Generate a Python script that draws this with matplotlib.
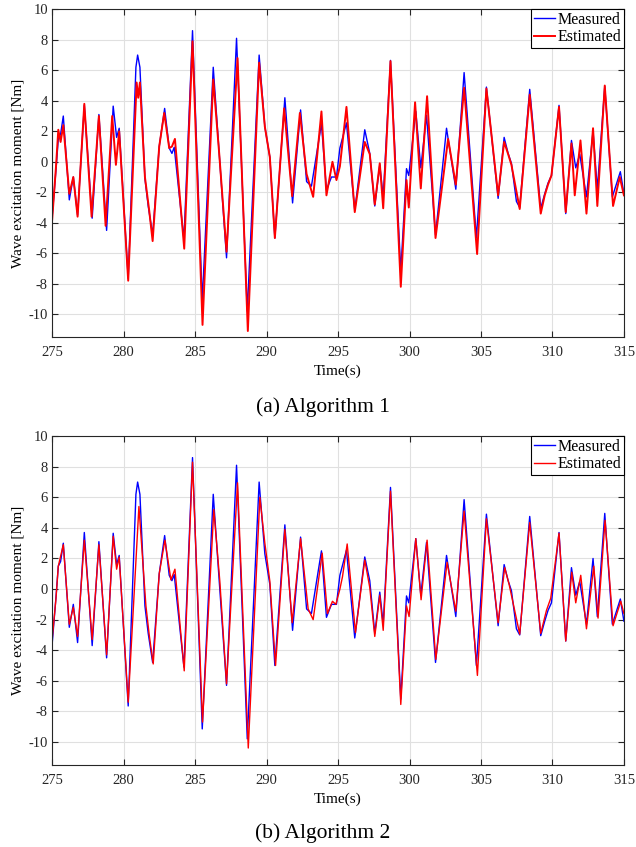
import numpy as np
import matplotlib
matplotlib.use("Agg")
import matplotlib.pyplot as plt

plt.rcParams['font.family'] = ['Liberation Serif', 'DejaVu Serif']
plt.rcParams['axes.unicode_minus'] = False

# measured wave excitation moment (same in both panels)
t_meas = [275.00, 275.27, 275.43, 275.59, 275.78, 276.20, 276.48, 276.78, 277.25, 277.80,
          278.27, 278.81, 279.27, 279.51, 279.69, 280.32, 280.86, 280.98, 281.14, 281.49,
          281.72, 282.03, 282.49, 282.87, 283.19, 283.38, 283.54, 284.22, 284.82, 285.50,
          286.27, 286.69, 287.20, 287.90, 288.65, 289.48, 289.88, 290.23, 290.58, 291.28,
          291.82, 292.38, 292.80, 293.14, 293.84, 294.19, 294.54, 294.89, 295.13, 295.59,
          296.17, 296.87, 297.22, 297.57, 297.92, 298.16, 298.67, 299.39, 299.79, 299.95,
          300.44, 300.79, 301.19, 301.82, 302.59, 303.24, 303.82, 304.68, 305.38, 306.20,
          306.62, 306.90, 307.13, 307.48, 307.71, 308.41, 309.18, 309.46, 309.69, 309.93,
          310.46, 310.93, 311.33, 311.63, 311.91, 312.38, 312.84, 313.14, 313.66, 314.19,
          314.75, 315.00]
measured = [-3.6, -0.5, 1.5, 1.8, 3.0, -2.5, -1.0, -3.5, 3.7, -3.7,
            3.1, -4.5, 3.65, 1.6, 2.2, -7.65, 6.2, 7.0, 6.2, -1.1,
            -2.9, -4.8, 1.0, 3.5, 0.9, 0.55, 0.95, -5.1, 8.6, -9.15,
            6.2, 0.5, -6.3, 8.1, -9.8, 7.0, 2.3, 0.3, -5.0, 4.2,
            -2.7, 3.4, -1.3, -1.6, 2.5, -1.85, -1.0, -1.0, 0.9, 2.55,
            -3.2, 2.1, 0.55, -2.9, -0.2, -2.3, 6.65, -7.2, -0.45, -0.9,
            3.3, -0.4, 3.05, -4.8, 2.2, -1.8, 5.85, -5.0, 4.9, -2.4,
            1.6, 0.55, -0.1, -2.6, -3.0, 4.75, -3.05, -2.1, -1.4, -0.9,
            3.7, -3.4, 1.4, -0.4, 0.5, -2.3, 2.0, -1.8, 4.95, -2.3,
            -0.65, -2.1]

# estimated, algorithm 1
t_est1 = [275.00, 275.27, 275.43, 275.59, 275.78, 276.20, 276.48, 276.78, 277.25, 277.76,
          278.27, 278.74, 279.20, 279.46, 279.69, 280.32, 280.91, 281.02, 281.14, 281.49,
          281.79, 282.03, 282.49, 282.84, 283.19, 283.38, 283.59, 284.24, 284.82, 285.52,
          286.27, 286.69, 287.20, 287.97, 288.69, 289.48, 289.88, 290.23, 290.58, 291.23,
          291.79, 292.33, 292.80, 293.26, 293.84, 294.19, 294.61, 294.89, 295.13, 295.59,
          296.17, 296.87, 297.22, 297.57, 297.92, 298.16, 298.67, 299.39, 299.79, 299.95,
          300.39, 300.79, 301.23, 301.82, 302.70, 303.24, 303.82, 304.73, 305.38, 306.20,
          306.62, 306.90, 307.13, 307.71, 308.41, 309.18, 309.46, 309.69, 309.93, 310.46,
          310.93, 311.33, 311.56, 311.96, 312.38, 312.84, 313.14, 313.66, 314.24, 314.71,
          315.00]
est1 = [-3.8, -0.3, 2.1, 1.3, 2.4, -2.1, -1.0, -3.6, 3.8, -3.6,
        3.0, -4.2, 3.0, -0.2, 2.0, -7.8, 5.2, 4.2, 5.2, -1.0,
        -3.2, -5.2, 1.0, 3.2, 0.9, 1.0, 1.5, -5.7, 7.9, -10.7,
        5.4, 0.5, -5.9, 6.8, -11.1, 6.5, 2.3, 0.3, -5.0, 3.5,
        -2.25, 3.2, -0.8, -2.3, 3.3, -2.2, 0.0, -1.2, -0.3, 3.6,
        -3.3, 1.3, 0.5, -2.8, -0.1, -3.05, 6.6, -8.2, -1.2, -3.0,
        3.9, -1.75, 4.3, -5.0, 1.5, -1.5, 4.85, -6.05, 4.8, -2.2,
        1.3, 0.5, -0.2, -3.1, 4.4, -3.4, -2.2, -1.5, -0.9, 3.6,
        -3.3, 1.2, -2.2, 1.4, -3.4, 2.2, -2.9, 5.0, -2.9, -1.0,
        -2.2]

# estimated, algorithm 2
t_est2 = [275.00, 275.27, 275.43, 275.78, 276.20, 276.48, 276.78, 277.25, 277.80, 278.27,
          278.81, 279.27, 279.51, 279.69, 280.32, 281.07, 281.56, 281.79, 282.07, 282.49,
          282.89, 283.31, 283.59, 284.24, 284.82, 285.52, 286.31, 286.73, 287.20, 287.97,
          288.72, 289.53, 289.88, 290.23, 290.63, 291.28, 291.79, 292.38, 292.91, 293.26,
          293.89, 294.26, 294.61, 294.85, 295.13, 295.31, 295.64, 296.22, 296.87, 297.22,
          297.57, 297.92, 298.16, 298.67, 299.39, 299.79, 299.97, 300.44, 300.81, 301.23,
          301.84, 302.63, 303.24, 303.82, 304.75, 305.38, 306.20, 306.66, 306.97, 307.71,
          308.41, 309.18, 309.58, 309.88, 310.46, 310.93, 311.35, 311.63, 311.98, 312.38,
          312.89, 313.19, 313.68, 314.24, 314.78, 315.00]
est2 = [-3.3, -0.6, 1.5, 2.9, -2.3, -1.2, -3.1, 3.2, -3.3, 2.9,
        -4.3, 3.45, 1.3, 2.1, -7.4, 5.4, -1.1, -3.0, -4.9, 1.0,
        3.2, 0.6, 1.3, -5.35, 8.3, -8.7, 5.2, 0.5, -6.2, 6.95,
        -10.4, 6.0, 3.0, 0.5, -5.0, 3.9, -2.2, 3.3, -1.3, -2.0,
        2.35, -1.6, -0.8, -1.0, 0.0, 0.8, 2.95, -2.85, 1.9, 0.1,
        -3.1, -0.4, -2.7, 6.4, -7.55, -1.1, -1.8, 3.3, -0.7, 3.2,
        -4.6, 1.75, -1.45, 5.1, -5.65, 4.6, -2.2, 1.4, 0.3, -2.95,
        4.35, -2.9, -1.4, -0.6, 3.65, -3.4, 1.1, -0.9, 0.9, -2.6,
        1.5, -1.9, 4.5, -2.4, -0.8, -1.6]

panels = [(t_est1, est1, '(a) Algorithm 1', 1.4),
          (t_est2, est2, '(b) Algorithm 2', 1.0)]

fig = plt.figure(figsize=(6.36, 8.47), dpi=100)
axes_pos = [[0.082, 0.602, 0.899, 0.387],
            [0.082, 0.097, 0.899, 0.388]]

for pos, (t_e, est, caption, lw) in zip(axes_pos, panels):
    ax = fig.add_axes(pos)
    ax.plot(t_meas, measured, color='blue', lw=1.0, label='Measured')
    ax.plot(t_e, est, color='red', lw=lw, label='Estimated')
    ax.set_xlim(275, 315)
    ax.set_ylim(-11.5, 10)
    ax.set_xticks(np.arange(275, 316, 5))
    ax.set_yticks(np.arange(-10, 11, 2))
    ax.grid(True, color='#e0e0e0', lw=0.8)
    ax.set_axisbelow(True)
    ax.tick_params(direction='in', top=True, right=True, labelsize=10.5,
                   colors='#262626', length=4)
    ax.tick_params(axis='x', pad=6.5)
    ax.tick_params(axis='y', pad=3)
    for s in ax.spines.values():
        s.set_color('#262626')
        s.set_linewidth(0.8)
    ax.set_xlabel('Time(s)', fontsize=11, labelpad=4)
    ax.set_ylabel('Wave excitation moment [Nm]', fontsize=11, labelpad=3)
    leg = ax.legend(loc='upper right', borderaxespad=0, fontsize=11.5,
                    handlelength=1.3, handletextpad=0.2, fancybox=False,
                    framealpha=1, edgecolor='black', borderpad=0.15,
                    labelspacing=0.1)
    leg.get_frame().set_linewidth(0.8)
    bb = ax.get_position()
    fig.text(0.507, bb.y0 - 0.083 * (1 if caption.startswith('(a)') else 0.97),
             caption, ha='center', va='center', fontsize=15.5)

fig.savefig('out.png', dpi=100)
